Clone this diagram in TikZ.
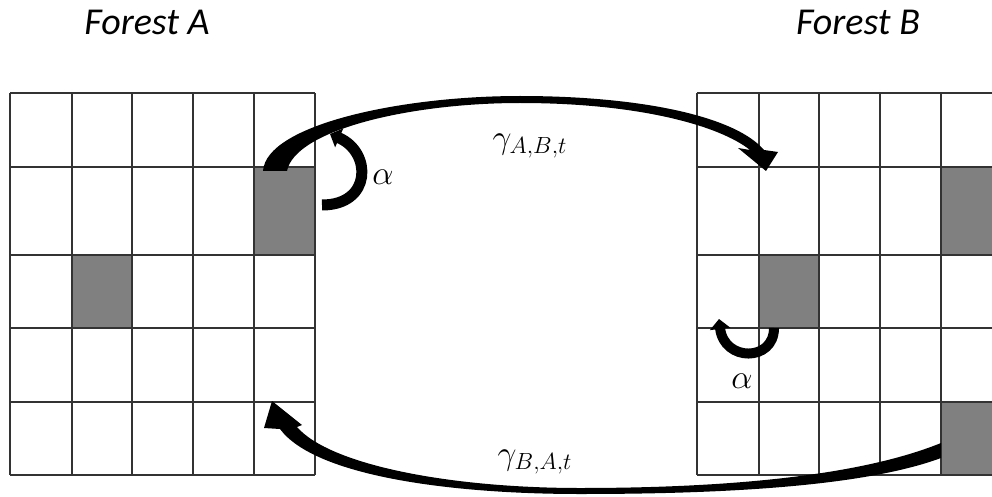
\documentclass[tikz,border=0pt]{standalone}
\usepackage{fontspec}
\newfontfamily\carlito{Carlito}
\usetikzlibrary{arrows.meta}
\tikzset{
  gridline/.style={draw=black!80, line width=1.8pt},
  shadecell/.style={fill=black!50},
  forestlabel/.style={font=\carlito\itshape\fontsize{38}{44}\selectfont, inner sep=0pt, anchor=base},
  mathlabel/.style={font=\fontsize{17.28}{20}\selectfont, inner sep=0pt, scale=1.95},
  bigarrow/.style={fill=black},
  selfarrow/.style={draw=black, line width=10pt},
}
\begin{document}
\begin{tikzpicture}[x=1pt,y=-1pt]
\useasboundingbox (0,0) rectangle (992,497);
\fill[white] (0,0) rectangle (992,497);
% shaded cells
\fill[shadecell] (254.3,167.3) rectangle (315,255);
\fill[shadecell] (71.7,255) rectangle (132.3,328.3);
\fill[shadecell] (759,255) rectangle (819.3,328.3);
\fill[shadecell] (940.7,167.3) rectangle (992,255);
\fill[shadecell] (940.7,401.7) rectangle (992,475);
% grid A
\foreach \y in {93.3,167.3,255,328.3,401.7,475}
  \draw[gridline] (10,\y) -- (315,\y);
\foreach \x in {10,71.7,132.3,192.7,254.3,315}
  \draw[gridline] (\x,93.3) -- (\x,475);
% grid B
\begin{scope}
\clip (0,0) rectangle (992,497);
\foreach \y in {93.3,167.3,255,328.3,401.7,475}
  \draw[gridline] (697.3,\y) -- (1001,\y);
\foreach \x in {697.3,759,819.3,880,940.7}
  \draw[gridline] (\x,93.3) -- (\x,475);
\end{scope}
% top arrow A -> B
\fill[bigarrow] (263,171) .. controls (266,125) and (400,96) .. (520,96)
  .. controls (640,96) and (735,116) .. (764,150) -- (778,152) -- (766,171) -- (738,148) -- (750,150)
  .. controls (720,126) and (640,103) .. (520,103)
  .. controls (410,103) and (295,130) .. (287,171) -- cycle;
% bottom arrow B -> A
\fill[bigarrow] (941,443) .. controls (850,480) and (700,488) .. (580,488)
  .. controls (450,488) and (330,465) .. (297,427) -- (302,425) -- (272,401) -- (264,428) -- (280,429)
  .. controls (315,476) and (450,494) .. (580,494)
  .. controls (710,494) and (860,488) .. (941,458) -- cycle;
% self arrows
\draw[selfarrow, line width=11pt, -{Triangle[length=10pt,width=20pt]}] (322,205) .. controls (372,205) and (372,152) .. (330,134);
\draw[selfarrow, -{Triangle[length=10pt,width=20pt]}] (774,328) .. controls (774,362) and (724,362) .. (719,319);
% labels
\node[forestlabel] (fa) at (147,35) {Forest A};
\node[forestlabel] (fb) at (858,35) {Forest B};
\node[mathlabel] (gab) at (530,146) {$\gamma_{A,B,t}$};
\node[mathlabel] (gba) at (535,462) {$\gamma_{B,A,t}$};
\node[mathlabel] (aa) at (383,177) {$\alpha$};
\node[mathlabel] (ab) at (742,381) {$\alpha$};
\end{tikzpicture}
\end{document}
